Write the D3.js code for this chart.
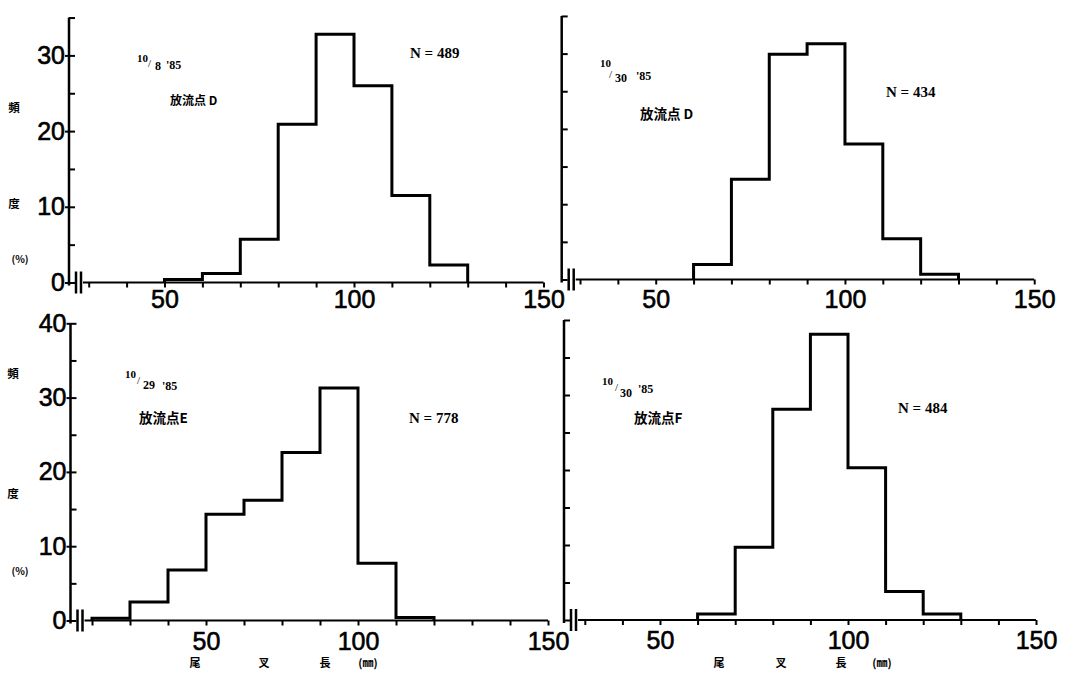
<!DOCTYPE html>
<html>
<head>
<meta charset="utf-8">
<script src="https://cdn.jsdelivr.net/npm/d3@7"></script>
<style>
body { margin: 0; background: #fff; }
svg { display: block; }
</style>
</head>
<body>
<div id="chart"></div>
<script>
// percent frequency of fork length, per 10 mm bin (bin start values)
var binsTL = [50, 60, 70, 80, 90, 100, 110, 120];
var pctTL  = [0.4, 1.2, 5.7, 20.9, 32.8, 26.0, 11.5, 2.3];
var binsTR = [60, 70, 80, 90, 100, 110, 120];
var pctTR  = [2.0, 13.3, 29.9, 31.3, 18.0, 5.4, 0.7];
var binsBL = [30, 40, 50, 60, 70, 80, 90, 100, 110];
var pctBL  = [0.3, 2.5, 6.8, 14.3, 16.2, 22.6, 31.3, 7.7, 0.4];
var binsBR = [60, 70, 80, 90, 100, 110, 120];
var pctBR  = [0.8, 9.7, 28.1, 38.1, 20.3, 3.8, 0.8];

var months = ["10", "10", "10", "10"];
var days = ["8", "30", "29", "30"];
var years = ["'85", "'85", "'85", "'85"];
var sites = ["放流点 D", "放流点 D", "放流点E", "放流点F"];
var counts = [489, 434, 778, 484];

var xLabels = ["50", "100", "150"];
var xLabelAt = [50, 100, 150];
var xLabelAtBL = [60, 100, 150]; // in the original the "50" sits one bin to the right
var yLabelsTop = [0, 10, 20, 30];
var yLabelsBottom = [0, 10, 20, 30, 40];
var yTitle = ["頻", "度", "(%)"];
var xTitle = ["尾", "叉", "長", "(㎜)"];

var panels = [
	{bins: binsTL, pct: pctTL, ax: 69, x0: 69.75, x1: 543.5, base: 282.5, k: 7.57, yMax: 35,
	 yLab: yLabelsTop, xAt: xLabelAt, labPad: 8, siteSize: 12,
	 month: [137, 62], slash: [148, 67], day: [155, 70], year: [166, 69], site: [170, 105], n: [410, 58],
	 yT: [[14, 107], [14, 203], [20, 258]]},
	{bins: binsTR, pct: pctTR, ax: 561.7, x0: 561.1, x1: 1034.2, base: 279.5, k: 7.53, yMax: 35,
	 yLab: null, xAt: xLabelAt, labPad: 11, siteSize: 13.5,
	 month: [600, 67], slash: [609, 78], day: [615, 82], year: [636, 80], site: [640, 119], n: [886, 97]},
	{bins: binsBL, pct: pctBL, ax: 70.5, x0: 73, x1: 548, base: 620.5, k: 7.43, yMax: 40,
	 yLab: yLabelsBottom, xAt: xLabelAtBL, labPad: 12, siteSize: 13.5,
	 month: [125, 378], slash: [137, 384], day: [143, 389], year: [162, 390], site: [139, 423], n: [409, 423],
	 yT: [[13, 373], [13, 493], [20, 570]],
	 xT: [195, 264, 325, 368]},
	{bins: binsBR, pct: pctBR, ax: 564, x0: 566, x1: 1036, base: 620, k: 7.5, yMax: 40,
	 yLab: null, xAt: xLabelAt, labPad: 11, siteSize: 13.5,
	 month: [602, 385], slash: [615, 391], day: [620, 397], year: [638, 393], site: [634, 423], n: [898, 413],
	 xT: [719, 781, 841, 882]}
];

var svg = d3.select("#chart").append("svg")
	.attr("width", 1091)
	.attr("height", 680);

var sans = "'Liberation Sans', Arial, sans-serif";
var serif = "'Liberation Serif', 'Times New Roman', serif";
var cjk = "'Noto Sans CJK JP', sans-serif";

panels.forEach(function(p, i) {
	var x = d3.scaleLinear().domain([25, 150]).range([p.x0, p.x1]);
	var y = d3.scaleLinear().domain([0, p.yMax]).range([p.base, p.base - p.yMax * p.k]);
	var g = svg.append("g");

	// y axis
	g.append("line")
		.attr("x1", p.ax).attr("x2", p.ax)
		.attr("y1", y(p.yMax)).attr("y2", p.base + 3)
		.attr("stroke", "#000").attr("stroke-width", 2.5);

	g.append("g")
		.attr("transform", "translate(" + p.ax + ",0)")
		.call(d3.axisRight(y).tickValues(d3.range(0, p.yMax + 1, 5)).tickSize(6).tickFormat(""))
		.call(function(a) {
			a.select(".domain").remove();
			a.selectAll("line").attr("stroke-width", 2);
		});

	if (p.yLab) {
		g.append("g")
			.attr("transform", "translate(" + p.ax + ",0)")
			.call(d3.axisLeft(y).tickValues(p.yLab).tickSize(4).tickPadding(0))
			.call(function(a) {
				a.select(".domain").remove();
				a.selectAll("line").attr("stroke-width", 2);
				a.selectAll("text")
					.attr("font-family", sans)
					.attr("font-size", 25)
					.attr("fill", "#000")
					.attr("stroke", "#000")
					.attr("stroke-width", 0.6);
			});
	}

	// x axis with break marks
	var xs = p.ax + 14;
	g.append("line")
		.attr("x1", xs).attr("x2", x(150))
		.attr("y1", p.base).attr("y2", p.base)
		.attr("stroke", "#000").attr("stroke-width", 2);

	[7, 12].forEach(function(dx) {
		g.append("line")
			.attr("x1", p.ax + dx).attr("x2", p.ax + dx)
			.attr("y1", p.base - 11).attr("y2", p.base + 11)
			.attr("stroke", "#000").attr("stroke-width", 2.5);
	});

	g.append("g")
		.attr("transform", "translate(0," + p.base + ")")
		.call(d3.axisBottom(x).tickValues(d3.range(30, 151, 10)).tickSize(5).tickFormat(""))
		.call(function(a) {
			a.select(".domain").remove();
			a.selectAll("line").attr("stroke-width", 2);
		});

	g.append("g")
		.attr("transform", "translate(0," + p.base + ")")
		.call(d3.axisBottom(x).tickValues(p.xAt).tickSize(0).tickPadding(p.labPad)
			.tickFormat(function(d, j) { return xLabels[j]; }))
		.call(function(a) {
			a.select(".domain").remove();
			a.selectAll("text")
				.attr("font-family", sans)
				.attr("font-size", 25)
				.attr("fill", "#000")
				.attr("stroke", "#000")
				.attr("stroke-width", 0.6);
		});

	// histogram outline
	var pts = [[p.bins[0], 0]]
		.concat(p.bins.map(function(b, j) { return [b, p.pct[j]]; }))
		.concat([[p.bins[p.bins.length - 1] + 10, 0]]);

	var step = d3.line()
		.x(function(d) { return x(d[0]); })
		.y(function(d) { return y(d[1]); })
		.curve(d3.curveStepAfter);

	g.append("path")
		.datum(pts)
		.attr("d", step)
		.attr("fill", "none")
		.attr("stroke", "#000")
		.attr("stroke-width", 3)
		.attr("stroke-linejoin", "miter");

	// date, site and N
	g.append("text").attr("x", p.month[0]).attr("y", p.month[1])
		.attr("font-family", serif).attr("font-weight", "bold").attr("font-size", 11).text(months[i]);
	g.append("text").attr("x", p.slash[0]).attr("y", p.slash[1])
		.attr("font-family", serif).attr("font-size", 11).text("/");
	g.append("text").attr("x", p.day[0]).attr("y", p.day[1])
		.attr("font-family", serif).attr("font-weight", "bold").attr("font-size", 12).text(days[i]);
	g.append("text").attr("x", p.year[0]).attr("y", p.year[1])
		.attr("font-family", serif).attr("font-weight", "bold").attr("font-size", 12).text(years[i]);
	g.append("text").attr("x", p.site[0]).attr("y", p.site[1])
		.attr("font-family", cjk).attr("font-weight", "bold")
		.attr("font-size", p.siteSize).text(sites[i]);
	g.append("text").attr("x", p.n[0]).attr("y", p.n[1])
		.attr("font-family", serif).attr("font-weight", "bold").attr("font-size", 15)
		.text("N = " + counts[i]);

	// axis titles
	if (p.yT) {
		p.yT.forEach(function(c, j) {
			g.append("text").attr("x", c[0]).attr("y", c[1])
				.attr("text-anchor", "middle").attr("dominant-baseline", "central")
				.attr("font-family", cjk).attr("font-weight", "bold")
				.attr("font-size", j == 2 ? 10 : 11.5).text(yTitle[j]);
		});
	}
	if (p.xT) {
		p.xT.forEach(function(cx, j) {
			g.append("text").attr("x", cx).attr("y", 662)
				.attr("text-anchor", "middle").attr("dominant-baseline", "central")
				.attr("font-family", cjk).attr("font-weight", "bold")
				.attr("font-size", 11).text(xTitle[j]);
		});
	}
});
</script>
</body>
</html>
